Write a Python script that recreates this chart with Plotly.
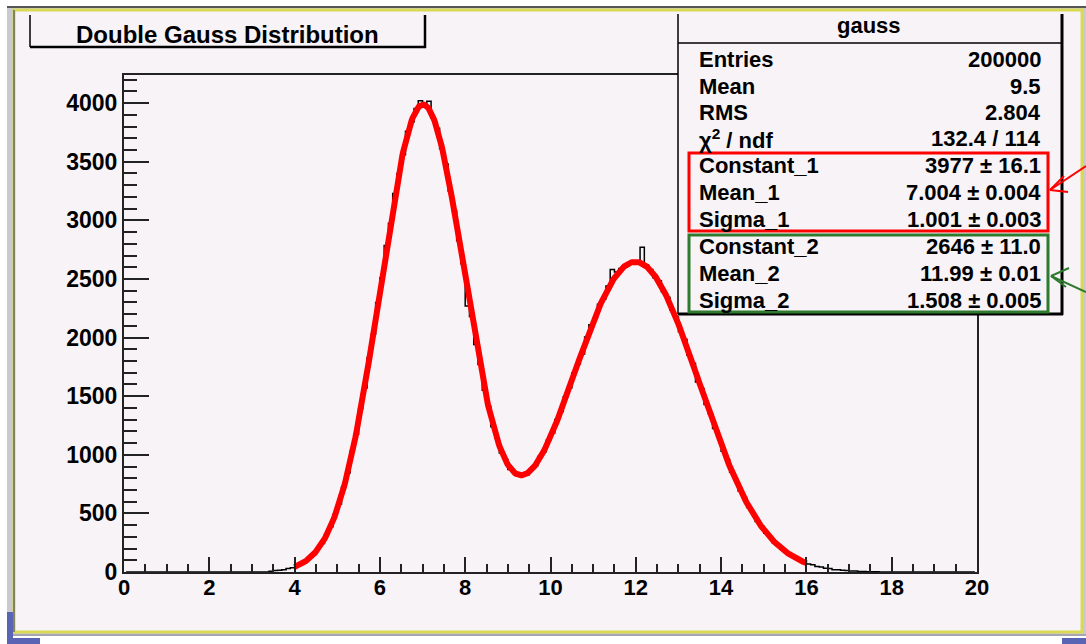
import numpy as np
import plotly.graph_objects as go

# ---------------- data ----------------
bin_width = 0.1
first_bin_low = 3.4
n_bins_total = 200
hist_counts = [
    6, 12, 15, 19, 30, 36, 49, 71, 88, 121,
    149, 201, 244, 320, 385, 490, 580, 725, 845, 1030,
    1175, 1395, 1570, 1830, 2030, 2300, 2510, 2785, 2975, 3230,
    3400, 3560, 3760, 3840, 3955, 4020, 3990, 4015, 3870, 3785,
    3610, 3480, 3250, 3080, 2825, 2630, 2270, 2180, 1940, 1770,
    1550, 1415, 1240, 1140, 1015, 960, 875, 855, 820, 835,
    830, 880, 905, 985, 1025, 1125, 1185, 1300, 1370, 1495,
    1570, 1700, 1775, 1860, 2005, 2110, 2165, 2285, 2330, 2440,
    2580, 2560, 2590, 2600, 2630, 2655, 2640, 2770, 2620, 2580,
    2510, 2485, 2390, 2345, 2235, 2175, 2050, 1985, 1850, 1780,
    1620, 1565, 1430, 1350, 1225, 1150, 1030, 960, 850, 790,
    690, 635, 550, 505, 430, 392, 330, 300, 250, 226,
    185, 168, 135, 121, 97, 88, 68, 62, 46, 43,
    31, 29, 20, 19, 14, 13, 9, 8, 5, 5,
    3, 3, 2, 1, 1, 1,
]
fit_constants = [3977, 2646]
fit_means = [7.004, 11.99]
fit_sigmas = [1.001, 1.508]
fit_range = [4.0, 16.0]

x_tick_vals = [0, 2, 4, 6, 8, 10, 12, 14, 16, 18, 20]
y_tick_vals = [0, 500, 1000, 1500, 2000, 2500, 3000, 3500, 4000]

stats_title = "gauss"
stats_labels = ["Entries", "Mean", "RMS", "χ<sup>2</sup> / ndf",
                "Constant_1", "Mean_1", "Sigma_1",
                "Constant_2", "Mean_2", "Sigma_2"]
stats_values = ["200000", "9.5", "2.804", "132.4 / 114",
                "3977 ± 16.1", "7.004 ± 0.004", "1.001 ± 0.003",
                "2646 ± 11.0", "11.99 ± 0.01", "1.508 ± 0.005"]
title_text = "Double Gauss Distribution"

# ---------------- geometry helpers ----------------
W_FIG, H_FIG = 1086, 644
L, R, T, B = 124, 977, 75, 572
PW, PH = R - L, B - T


def px(x):
    return (x - L) / PW


def py(y):
    return (B - y) / PH


BG = "#f7f3f7"
FONT = "Liberation Sans, Arial, Helvetica, sans-serif"

# histogram outline
full = np.zeros(n_bins_total)
start = int(round(first_bin_low / bin_width))
full[start:start + len(hist_counts)] = hist_counts
centers = (np.arange(n_bins_total) + 0.5) * bin_width

# fit curve
xf = np.linspace(fit_range[0], fit_range[1], 600)
yf = np.zeros_like(xf)
for c, m, s in zip(fit_constants, fit_means, fit_sigmas):
    yf += c * np.exp(-0.5 * ((xf - m) / s) ** 2)

fig = go.Figure()
fig.add_trace(go.Scatter(x=centers, y=full, mode="lines",
                         line=dict(color="black", width=1.5, shape="hvh"),
                         hoverinfo="skip", showlegend=False))
fig.add_trace(go.Scatter(x=xf, y=yf, mode="lines",
                         line=dict(color="#ff0000", width=6),
                         hoverinfo="skip", showlegend=False))

shapes = []


def rect(x0, y0, x1, y1, line=None, fill=None, width=1, layer="above"):
    d = dict(type="rect", xref="paper", yref="paper",
             x0=px(x0), x1=px(x1), y0=py(y0), y1=py(y1), layer=layer,
             line=dict(width=width if line else 0, color=line or "rgba(0,0,0,0)"))
    if fill:
        d["fillcolor"] = fill
    shapes.append(d)


def seg(x0, y0, x1, y1, color="black", width=1, layer="above"):
    shapes.append(dict(type="line", xref="paper", yref="paper",
                       x0=px(x0), x1=px(x1), y0=py(y0), y1=py(y1),
                       layer=layer, line=dict(color=color, width=width)))


# outer window frame
rect(0, 0, W_FIG, H_FIG, fill="#ffffff", layer="below")
rect(7, 7, W_FIG, 636, fill="#c9c9d2", layer="below")
rect(14, 10, 1082, 632, fill=BG, line="#d9d955", width=3, layer="below")
seg(7, 7, W_FIG, 7, color="#555555", width=2, layer="below")
seg(14, 10, 14, 632, color="#666666", width=1.5, layer="below")
seg(7, 635, W_FIG, 635, color="#9a9aa8", width=1.5, layer="below")
rect(7, 612, 13, 644, fill="#5a64b4", layer="below")
rect(7, 638, 40, 644, fill="#5a64b4", layer="below")
rect(1062, 638, W_FIG, 644, fill="#5a64b4", layer="below")

# title box
rect(30, 14, 424, 46, fill=BG)
seg(30, 15, 30, 47, width=1.5)
seg(30, 47, 426, 47, width=2.5)
seg(425, 15, 425, 48, width=2.5)

# stats box
rect(678, 14, 1062, 313, fill=BG)
seg(678, 14, 678, 314, width=1.5)
seg(678, 43, 1062, 43, width=1.5)
seg(1062, 14, 1062, 315, width=3)
seg(678, 314, 1063, 314, width=3)

# highlight boxes
rect(689, 153, 1048, 231, line="#ff0000", width=3)
rect(689, 235, 1048, 312, line="#2e7a2e", width=3)

# arrows
seg(1086, 166, 1050, 190, color="#ff0000", width=2)
seg(1050, 190, 1064, 176, color="#ff0000", width=2)
seg(1050, 190, 1068, 192, color="#ff0000", width=2)
seg(1086, 292, 1051, 276, color="#2e7a2e", width=2)
seg(1051, 276, 1069, 268, color="#2e7a2e", width=2)
seg(1051, 276, 1066, 287, color="#2e7a2e", width=2)

annotations = []
annotations.append(dict(text=title_text, xref="paper", yref="paper",
                        x=px(227), y=py(34), xanchor="center", yanchor="middle",
                        showarrow=False,
                        font=dict(family=FONT, size=24, color="black", weight="bold")))
annotations.append(dict(text=stats_title, xref="paper", yref="paper",
                        x=px(869), y=py(26), xanchor="center", yanchor="middle",
                        showarrow=False,
                        font=dict(family=FONT, size=22, color="black", weight="bold")))
row_y = [60, 86, 113, 139, 165, 192, 219, 246, 273, 300]
for lab, val, yy in zip(stats_labels, stats_values, row_y):
    annotations.append(dict(text=lab, xref="paper", yref="paper",
                            x=px(697), y=py(yy), xanchor="left", yanchor="middle",
                            showarrow=False,
                            font=dict(family=FONT, size=22, color="black", weight="bold")))
    annotations.append(dict(text=val, xref="paper", yref="paper",
                            x=px(1043), y=py(yy), xanchor="right", yanchor="middle",
                            showarrow=False,
                            font=dict(family=FONT, size=22, color="black", weight="bold")))

axis_common = dict(showline=True, linecolor="#222222", linewidth=2, mirror=True,
                   ticks="inside", tickcolor="#222222", tickwidth=2,
                   showgrid=False, zeroline=False)

fig.update_layout(
    width=W_FIG, height=H_FIG,
    margin=dict(l=L, r=W_FIG - R, t=T, b=H_FIG - B, pad=0),
    paper_bgcolor="#ffffff", plot_bgcolor="rgba(0,0,0,0)",
    showlegend=False,
    shapes=shapes, annotations=annotations,
    xaxis=dict(range=[0, 20], tickvals=x_tick_vals, ticklen=15,
               ticklabelstandoff=-5,
               tickfont=dict(family=FONT, size=22, color="black", weight="bold"),
               minor=dict(dtick=0.5, ticklen=8, ticks="inside",
                          tickcolor="#222222", tickwidth=2, showgrid=False),
               **axis_common),
    yaxis=dict(range=[0, 4240], tickvals=y_tick_vals, ticklen=25,
               tickfont=dict(family=FONT, size=23, color="black", weight="bold"),
               minor=dict(dtick=100, ticklen=13, ticks="inside",
                          tickcolor="#222222", tickwidth=2, showgrid=False),
               **axis_common),
)

fig.write_html("out.html", config={"displayModeBar": False},
               post_script="document.body.style.margin='0';")
